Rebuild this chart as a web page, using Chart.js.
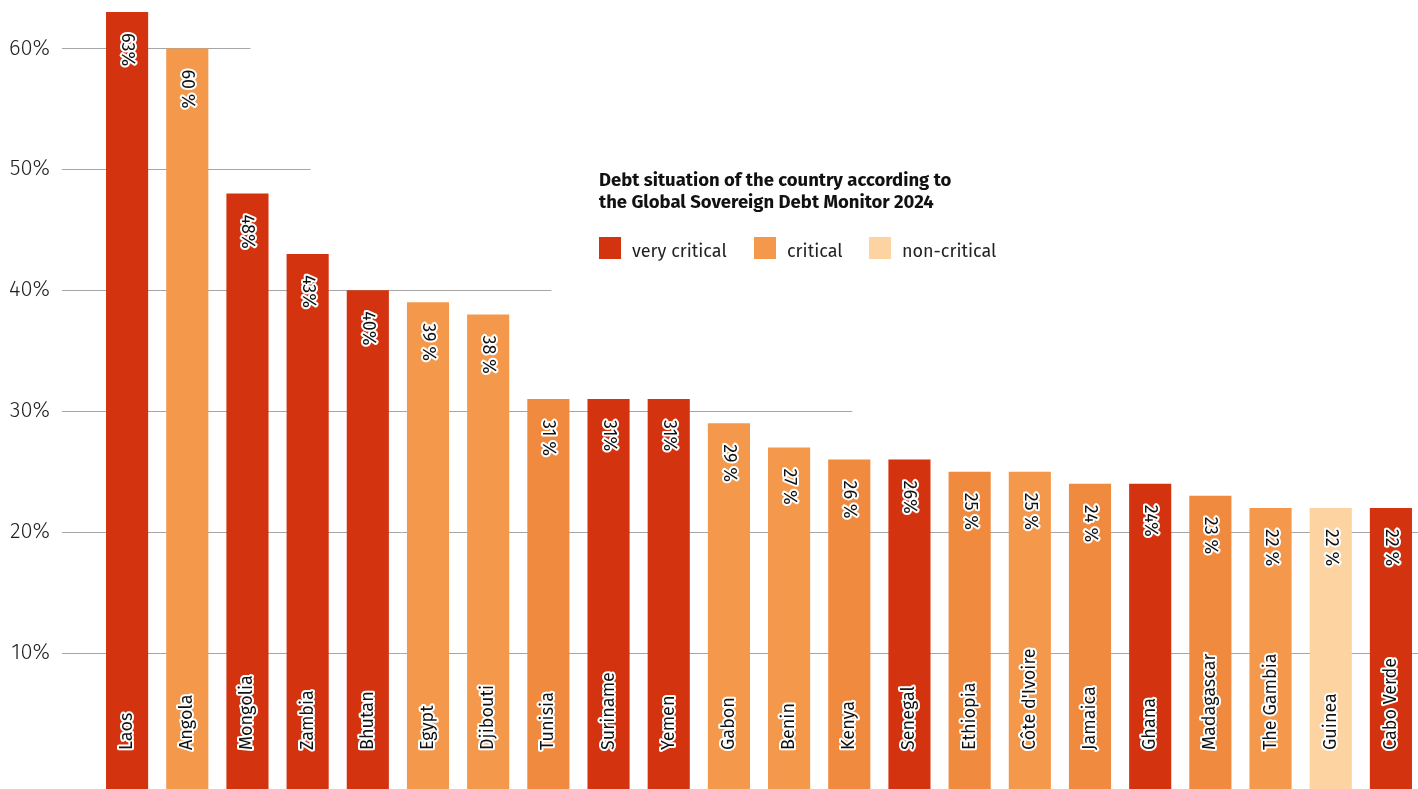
<!DOCTYPE html>
<html>
<head>
<meta charset="utf-8">
<script src="https://cdn.jsdelivr.net/npm/chart.js@4.4.1/dist/chart.umd.min.js"></script>
<style>
    html, body { margin: 0; padding: 0; background: #fff; overflow: hidden; }
    #divChart { position: relative; width: 1421px; height: 789px; }
</style>
</head>
<body>
<div id="divChart"><canvas id="chartDebt"></canvas></div>
<script>
// data
var countries = ['Laos', 'Angola', 'Mongolia', 'Zambia', 'Bhutan', 'Egypt', 'Djibouti', 'Tunisia',
    'Suriname', 'Yemen', 'Gabon', 'Benin', 'Kenya', 'Senegal', 'Ethiopia', "Côte d'Ivoire",
    'Jamaica', 'Ghana', 'Madagascar', 'The Gambia', 'Guinea', 'Cabo Verde'];
var shares = [63, 60, 48, 43, 40, 39, 38, 31, 31, 31, 29, 27, 26, 26, 25, 25, 24, 24, 23, 22, 22, 22];
var valueLabels = ['63%', '60 %', '48%', '43%', '40%', '39 %', '38 %', '31 %', '31%', '31%', '29 %',
    '27 %', '26 %', '26%', '25 %', '25 %', '24 %', '24%', '23 %', '22 %', '22 %', '22 %'];
var situation = ['very critical', 'critical', 'very critical', 'very critical', 'very critical',
    'critical', 'critical', 'critical', 'very critical', 'very critical', 'critical', 'critical',
    'critical', 'very critical', 'critical', 'critical', 'critical', 'very critical', 'critical',
    'critical', 'non-critical', 'very critical'];
var legendLabels = ['very critical', 'critical', 'non-critical'];
var legendTitle = ['Debt situation of the country according to', 'the Global Sovereign Debt Monitor 2024'];
var yTicks = [10, 20, 30, 40, 50, 60];

// colours
var legendColors = { 'very critical': '#D4330F', 'critical': '#F4984C', 'non-critical': '#FCD3A1' };
var darkOrange = '#F08A3E';
var darkOrangeBars = ['Tunisia', 'Kenya', 'Ethiopia', 'Jamaica', 'Madagascar'];
var barColors = countries.map(function(c, i) {
    if (darkOrangeBars.indexOf(c) >= 0) return darkOrange;
    return legendColors[situation[i]];
});

// gridlines stop at the centre of this category (others run full width)
var gridStop = { 60: 'Mongolia', 50: 'Zambia', 40: 'Tunisia', 30: 'Kenya' };

var FONT = "'Fira Sans', 'Open Sans', 'Noto Sans', sans-serif";
var Y_MIN = -1.24, Y_MAX = 64;

function haloText(ctx, text, x, y) {
    ctx.lineJoin = 'round';
    ctx.lineWidth = 4;
    ctx.strokeStyle = '#ffffff';
    ctx.strokeText(text, x, y);
    ctx.fillStyle = '#111111';
    ctx.fillText(text, x, y);
}

var gridPlugin = {
    id: 'partialGrid',
    beforeDatasetsDraw: function(chart) {
        var ctx = chart.ctx, y = chart.scales.y, x = chart.scales.x;
        ctx.save();
        ctx.strokeStyle = '#a6a6a6';
        ctx.lineWidth = 1;
        yTicks.forEach(function(t) {
            var py = Math.round(y.getPixelForValue(t)) + 0.5;
            var endX = chart.width;
            if (gridStop[t]) endX = x.getPixelForValue(countries.indexOf(gridStop[t])) + 3;
            ctx.beginPath();
            ctx.moveTo(62, py);
            ctx.lineTo(endX, py);
            ctx.stroke();
        });
        ctx.restore();
    }
};

var labelPlugin = {
    id: 'barLabels',
    afterDatasetsDraw: function(chart) {
        var ctx = chart.ctx;
        var meta = chart.getDatasetMeta(0);
        ctx.save();
        ctx.font = '18px ' + FONT;
        ctx.textBaseline = 'middle';
        meta.data.forEach(function(bar, i) {
            // country name, bottom-up
            ctx.save();
            ctx.translate(bar.x, 750);
            ctx.rotate(-Math.PI / 2);
            ctx.textAlign = 'left';
            haloText(ctx, countries[i], 0, 0);
            ctx.restore();
            // value, top-down
            ctx.save();
            ctx.translate(bar.x, bar.y + 21);
            ctx.rotate(Math.PI / 2);
            ctx.textAlign = 'left';
            haloText(ctx, valueLabels[i], 0, 0);
            ctx.restore();
        });
        ctx.restore();
    }
};

var legendPlugin = {
    id: 'boxLegend',
    afterDraw: function(chart) {
        var ctx = chart.ctx;
        ctx.save();
        ctx.fillStyle = '#111111';
        ctx.textAlign = 'left';
        ctx.textBaseline = 'alphabetic';
        ctx.font = 'bold 18.5px ' + FONT;
        ctx.fillText(legendTitle[0], 599, 186);
        ctx.fillText(legendTitle[1], 599, 208);
        var xs = [599, 754, 869];
        ctx.font = '18px ' + FONT;
        legendLabels.forEach(function(lab, i) {
            ctx.fillStyle = legendColors[lab];
            ctx.fillRect(xs[i], 237, 22, 22);
            ctx.fillStyle = '#222222';
            ctx.fillText(lab, xs[i] + 33, 257);
        });
        ctx.restore();
    }
};

var ctx = document.getElementById('chartDebt');
var myChart = new Chart(ctx, {
    type: 'bar',
    data: {
        labels: countries,
        datasets: [{
            label: 'Share',
            data: shares,
            backgroundColor: barColors,
            base: Y_MIN,
            barPercentage: 0.7,
            categoryPercentage: 1.0
        }]
    },
    options: {
        responsive: true,
        maintainAspectRatio: false,
        animation: false,
        layout: { padding: 0 },
        plugins: {
            legend: { display: false },
            tooltip: { enabled: false },
            title: { display: false }
        },
        scales: {
            x: {
                display: false
            },
            y: {
                min: Y_MIN,
                max: Y_MAX,
                afterBuildTicks: function(scale) {
                    scale.ticks = yTicks.map(function(v) { return { value: v }; });
                },
                afterFit: function(scale) {
                    scale.width = 97;
                    scale.paddingTop = 0;
                    scale.paddingBottom = 0;
                },
                grid: { display: true, drawOnChartArea: false, drawTicks: true, tickLength: 47, tickColor: 'rgba(0,0,0,0)' },
                border: { display: false },
                ticks: {
                    padding: 0,
                    color: '#222222',
                    font: { family: FONT, size: 22, weight: '300', lineHeight: 0.05 },
                    callback: function(v) { return v + '%'; }
                }
            }
        }
    },
    plugins: [gridPlugin, labelPlugin, legendPlugin]
});
</script>
</body>
</html>
